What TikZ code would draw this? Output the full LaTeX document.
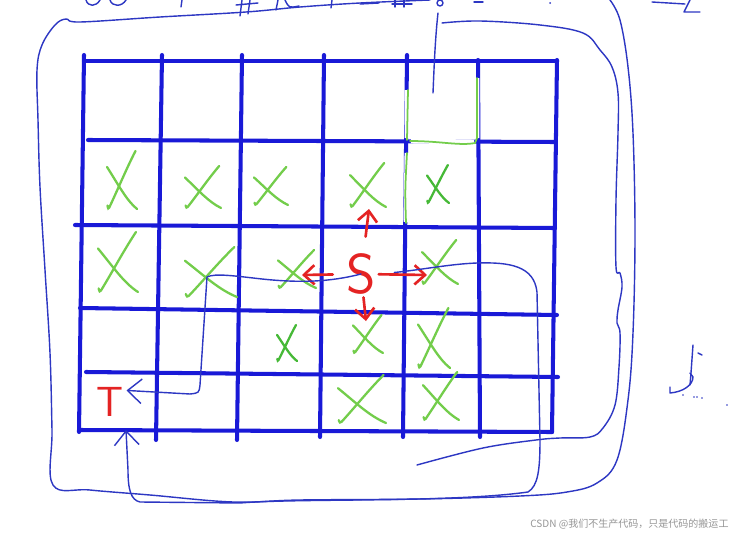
\documentclass[tikz,border=0pt]{standalone}
\usepackage{fontspec}
\newfontfamily\cjkfont{Noto Sans CJK SC}
\usetikzlibrary{arrows.meta}

\definecolor{gridblue}{RGB}{25,25,215}
\definecolor{penblue}{RGB}{45,55,195}
\definecolor{xgreen}{RGB}{115,205,75}
\definecolor{xdark}{RGB}{70,185,55}
\definecolor{penred}{RGB}{228,35,35}
\definecolor{markgray}{RGB}{150,150,150}

\pgfdeclarelayer{background}
\pgfdeclarelayer{foreground}
\pgfsetlayers{background,main,foreground}

\def\gridw{2.3pt}
\def\penw{0.8pt}
\tikzstyle{gridline}=[draw=gridblue, line width=\gridw, line cap=round]
\tikzstyle{pen}=[draw=penblue, line width=\penw, line cap=round, line join=round]
\tikzstyle{penarr}=[pen, -{Straight Barb[length=8pt,width=14pt]}]
\tikzstyle{redarr}=[draw=penred, line width=1.5pt, line cap=round,
    -{Straight Barb[length=6pt,width=11pt]}]
\tikzstyle{letter}=[text=penred, font=\sffamily, inner sep=1.5pt]
\tikzstyle{xstroke}=[draw, line width=1.3pt, line cap=round]
\tikzstyle{greenline}=[draw=xgreen, line width=1pt, line cap=round]

\tikzset{xcross/.pic={
    \draw[xstroke] (0.9,-1) .. controls (0.3,-0.4) and (-0.3,0.35) .. (-0.85,0.95)
        .. controls (-0.92,1) .. (-0.97,0.88);
    \draw[xstroke] (-1,-0.45) .. controls (-0.2,0.2) and (0.3,0.7) .. (1,1);
}}

\begin{document}
\begin{tikzpicture}[x=0.02cm, y=-0.02cm]
    \useasboundingbox (0,0) rectangle (741,541);
    \begin{pgfonlayer}{background}
        \fill[white] (0,0) rectangle (741,541);
    \end{pgfonlayer}

    % the board
    \foreach \xa/\ya/\xb/\yb in {84/55/79/432, 162/55/156/440, 242/55/237/440,
        324/55/320/437, 407/55/403/437, 478/60/480/437, 557/60/552/432}
        \draw[gridline] (\xa,\ya) -- (\xb,\yb);
    \foreach \xa/\ya/\xb/\yb in {84/61/557/61, 88/140/555/142, 75/225/555/228,
        80/308/557/315, 86/372/558/377, 79/430/552/432}
        \draw[gridline] (\xa,\ya) -- (\xb,\yb);

    % blocked cells
    \begin{scope}[color=xgreen]
        \pic[xscale=15, yscale=29] at (122,180) {xcross};
        \pic[xscale=18, yscale=21] at (203,187) {xcross};
        \pic[xscale=17, yscale=19] at (271,186) {xcross};
        \pic[xscale=18, yscale=22] at (368,185) {xcross};
        \pic[xscale=11, yscale=19, color=xdark] at (438,184) {xcross};
        \pic[xscale=20, yscale=30] at (118,262) {xcross};
        \pic[xscale=26, yscale=25] at (211,272) {xcross};
        \pic[xscale=19, yscale=19] at (297,269) {xcross};
        \pic[xscale=18, yscale=22] at (440,262) {xcross};
        \pic[xscale=10, yscale=18, color=xdark] at (287,343) {xcross};
        \pic[xscale=15, yscale=19] at (368,334) {xcross};
        \pic[xscale=16, yscale=30] at (434,338) {xcross};
        \pic[xscale=24, yscale=24] at (362,399) {xcross};
        \pic[xscale=18, yscale=24] at (441,396) {xcross};
    \end{scope}

    \node (S) [letter, font=\sffamily\fontsize{32}{32}\selectfont] at (361,274) {S};
    \node (T) [letter, font=\sffamily\fontsize{24}{24}\selectfont] at (110,402) {T};

    \coordinate (up) at (369,209);
    \coordinate (lf) at (302,275);
    \coordinate (rt) at (427,275);
    \coordinate (dn) at (366,321);
    \coordinate (tin) at (126,430);

    \draw[redarr, shorten <=8pt] (S) -- (up);
    \draw[redarr, shorten <=6pt] (S) -- (lf);
    \draw[redarr] (S) -- (rt);
    \draw[redarr] (S) -- (dn);

    % two ways from S to T
    \draw[penarr] (S.center) .. controls (330,282) and (300,283) .. (262,279)
        .. controls (235,276) and (215,273) .. (207,277) -- (200,385)
        .. controls (199,393) .. (190,394) -- (T.35);
    \draw[penarr, shorten <=9pt] (S.east) .. controls (420,270) and (450,264) .. (477,263)
        .. controls (510,262) and (534,266) .. (537,292) -- (540,440)
        .. controls (540,470) and (538,486) .. (528,492)
        .. controls (450,503) and (300,498) .. (240,503) -- (140,502)
        .. controls (131,500) and (128,490) .. (128,470) -- (tin);

    % outer loop
    \draw[pen] plot[smooth, tension=0.6] coordinates {(430,0) (360,3) (300,7) (246,12)
        (160,17) (80,22) (66,19) (55,25) (42,45) (37,70) (38,120) (40,187) (45,270)
        (50,353) (52,430) (53,485) (90,490) (150,495) (233,502) (300,500) (420,499)
        (520,496) (567,492) (597,483) (617,460) (628,400) (633,333) (635,233)
        (633,133) (628,67) (620,20) (610,0)};
    % inner loop
    \draw[pen] (438,13) .. controls (435,40) and (434,70) .. (433,93);
    \draw[pen] plot[smooth, tension=0.6] coordinates {(442,23) (480,21) (540,25)
        (583,33) (600,50) (612,67) (618,93) (618,133) (616,200) (616,267) (620,273)
        (622,287) (618,310) (617,323) (620,333) (619,367) (615,405) (603,428)
        (590,437) (560,438) (536,440) (483,448) (417,465)};

    % scribbles cut at the top
    \draw[pen] (86,0) .. controls (88,7) and (96,7) .. (100,0);
    \draw[pen] (110,0) .. controls (112,7) and (122,7) .. (126,0);
    \draw[pen] (182,0) -- (181,7);
    \draw[pen] (242,0) -- (240,16) (250,0) -- (248,14) (236,5) -- (258,3);
    \draw[pen] (278,0) -- (276,10) (285,0) .. controls (289,8) .. (299,6);
    \draw[pen] (332,0) -- (331,8) (360,4) -- (379,3);
    \draw[pen] (395,0) -- (395,7) (404,0) -- (404,7) (392,4) -- (412,4);
    \draw[pen] (440,3) ellipse (3 and 3);
    \draw[pen] (474,2) -- (483,2);
    \fill[penblue] (550,3) circle (1);
    \draw[pen] (652,2) -- (685,4) (690,0) .. controls (686,8) .. (684,12) -- (700,12);

    % note at the right
    \draw[pen] (693,345) -- (691,373) -- (690,385);
    \draw[pen] (670,387) -- (670,393) .. controls (683,392) and (693,385) .. (693,377)
        -- (690,373);
    \draw[pen] (698,353) -- (702,355);
    \foreach \px/\py in {683/395, 694/397, 697/397, 702/398, 727/405}
        \fill[penblue] (\px,\py) circle (0.9);

    \node (mark) [anchor=west, text=markgray, inner sep=0,
        font=\cjkfont\fontsize{5.7}{6}\selectfont] at (530,524)
        {CSDN @我们不生产代码，只是代码的搬运工};

    \begin{pgfonlayer}{foreground}
        \draw[white, line width=2.8pt] (407,90) -- (407,138) (407,153) -- (406,222)
            (411,141) -- (474,142) (477,78) -- (477,138);
        \draw[greenline] (408,90) -- (407,140) (407,153) .. controls (405,190) .. (406,223);
        \draw[greenline] (410,141) .. controls (440,141) and (460,146) .. (475,143)
            -- (477,138) -- (477,78);
    \end{pgfonlayer}
\end{tikzpicture}
\end{document}
